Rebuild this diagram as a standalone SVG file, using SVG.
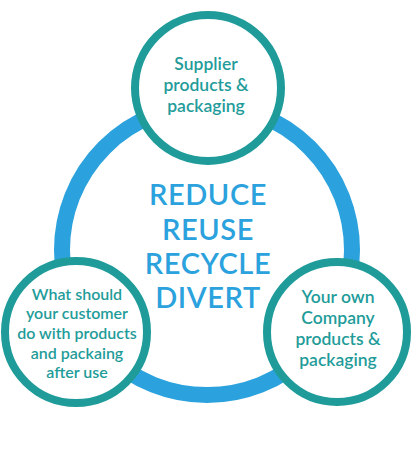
<svg xmlns="http://www.w3.org/2000/svg" width="413" height="455" viewBox="0 0 413 455">
<style>
.node circle{fill:#ffffff;stroke:#1f9c9a;stroke-width:8}
.node text{fill:#1f9c9a;font-family:Lato,"Open Sans","Liberation Sans",sans-serif;font-weight:600;text-anchor:middle}
.center text{fill:#2ba2dd;font-family:Lato,"Open Sans","Liberation Sans",sans-serif;font-weight:600;font-size:29px;letter-spacing:0.6px;text-anchor:middle}
</style>
<rect width="413" height="455" fill="#ffffff"/>
<g id="connectors">
<circle cx="207" cy="250" r="145" fill="none" stroke="#2ba2dd" stroke-width="16"/>
</g>
<g id="center" class="center">
<text x="208" y="205">REDUCE</text>
<text x="208" y="240">REUSE</text>
<text x="208" y="274">RECYCLE</text>
<text x="208" y="308">DIVERT</text>
</g>
<g id="supplier" class="node">
<circle cx="208" cy="88" r="73"/>
<text font-size="17.5" x="206" y="70">Supplier</text>
<text font-size="17.5" x="206" y="91">products &amp;</text>
<text font-size="17.5" x="206" y="112">packaging</text>
</g>
<g id="customer" class="node">
<circle cx="76" cy="332" r="71"/>
<text font-size="16" x="77" y="300">What should</text>
<text font-size="16" x="77" y="319">your customer</text>
<text font-size="16" x="77" y="339">do with products</text>
<text font-size="16" x="77" y="359">and packaing</text>
<text font-size="16" x="77" y="378">after use</text>
</g>
<g id="company" class="node">
<circle cx="337" cy="332" r="70"/>
<text font-size="17.5" x="338" y="303">Your own</text>
<text font-size="17.5" x="338" y="324">Company</text>
<text font-size="17.5" x="338" y="345">products &amp;</text>
<text font-size="17.5" x="338" y="366">packaging</text>
</g>
</svg>
